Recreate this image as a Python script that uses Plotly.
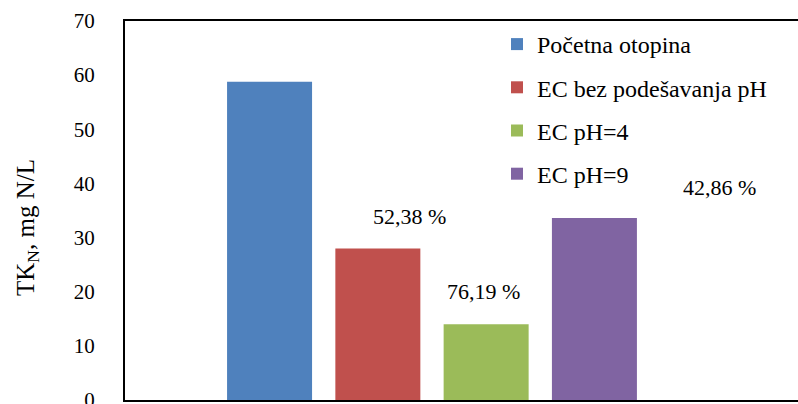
import plotly.graph_objects as go

series = ["Početna otopina", "EC bez podešavanja pH", "EC pH=4", "EC pH=9"]
values = [58.8, 28.0, 14.0, 33.6]
colors = ["#4F81BD", "#C0504D", "#9BBB59", "#8064A2"]
pct_labels = ["52,38 %", "76,19 %", "42,86 %"]
category = ["TKN"]

FONT = "Liberation Serif"
W, H = 798, 404
L, R, T, B = 125, 0, 21, 4
pw = W - L - R

fig = go.Figure()
for name, v, c in zip(series, values, colors):
    fig.add_trace(go.Bar(x=category, y=[v], name=name, marker_color=c,
                         marker_line_width=0, legendgroup=name))

# percentage labels (hand-placed as in the original)
label_px = [(409, 216), (483, 291), (719, 187)]
annots = []
for txt, (px, py) in zip(pct_labels, label_px):
    annots.append(dict(text=txt, x=(px - L) / pw, xref="paper",
                       y=(H - B - py) / (H - B - T) * 70, yref="y",
                       showarrow=False, xanchor="center", yanchor="middle",
                       font=dict(family=FONT, size=22, color="black")))
annots.append(dict(text="TK<sub>N</sub>, mg N/L", x=(27 - L) / pw, xref="paper",
                   y=(H - B - 228) / (H - B - T), yref="paper", textangle=-90,
                   showarrow=False, xanchor="center", yanchor="middle",
                   font=dict(family=FONT, size=25, color="black")))

fig.update_layout(
    width=W, height=H,
    margin=dict(l=L, r=R, t=T, b=B, pad=0, autoexpand=False),
    paper_bgcolor="white", plot_bgcolor="white",
    barmode="group", bargap=0.2, bargroupgap=0.215,
    showlegend=True,
    legend=dict(x=(497 - L) / pw, y=1 - (22 - T) / (H - B - T), xanchor="left", yanchor="top",
                font=dict(family=FONT, size=24, color="black"),
                tracegroupgap=9, bgcolor="rgba(0,0,0,0)"),
    annotations=annots,
    font=dict(family=FONT, color="black"),
)
fig.update_xaxes(range=[-0.567, 0.676], showticklabels=False, showgrid=False, zeroline=False,
                 showline=True, linecolor="black", linewidth=2, mirror=True, ticks="",
                 automargin=False)
fig.update_yaxes(range=[0, 70], dtick=10, showgrid=False, zeroline=False,
                 showline=True, linecolor="black", linewidth=2, ticks="",
                 ticklabelstandoff=24, ticklabeloverflow="allow", automargin=False,
                 tickfont=dict(family=FONT, size=21, color="black"))

fig.write_html("out.html", config={"displayModeBar": False},
               post_script="document.body.style.margin='0';document.body.style.padding='0';")
